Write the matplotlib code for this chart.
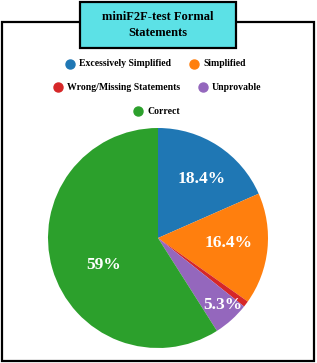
import matplotlib.pyplot as plt
from matplotlib.patches import Rectangle
from matplotlib.lines import Line2D
import numpy as np

labels = ['Excessively Simplified', 'Simplified', 'Wrong/Missing Statements', 'Unprovable', 'Correct']
values = [18.4, 16.4, 0.9, 5.3, 59.0]
colors = ['#1f77b4', '#ff7f0e', '#d62728', '#9467bd', '#2ca02c']
pct_text = ['18.4%', '16.4%', '', '5.3%', '59%']

W, H = 317, 363
plt.rcParams['font.family'] = ['Liberation Serif', 'DejaVu Serif']
fig = plt.figure(figsize=(W / 100, H / 100), dpi=100)

# outer frame
fig.patches.append(Rectangle((2 / W, 2 / H), 312 / W, 339 / H, transform=fig.transFigure,
                             fill=False, edgecolor='black', linewidth=1.6))

# title box
fig.patches.append(Rectangle((80 / W, 1 - 48 / H), 156 / W, 46 / H, transform=fig.transFigure,
                             facecolor='#5ce1e6', edgecolor='black', linewidth=1.6, zorder=3))
fig.text(158 / W, 1 - 25 / H, 'miniF2F-test Formal\nStatements', ha='center', va='center',
         fontsize=9, fontweight='bold', linespacing=1.45, zorder=4)

# pie
ax = fig.add_axes([48 / W, 15 / H, 220 / W, 220 / H])
wedges, _ = ax.pie(values, colors=colors, startangle=90, counterclock=False,
                   wedgeprops=dict(linewidth=0))
ax.set_xlim(-1, 1)
ax.set_ylim(-1, 1)
ax.set_aspect('equal')
# label placement (radius, angle tweak in degrees)
radii = [0.67, 0.64, 0.65, 0.85, 0.55]
nudge = [-3.5, 2, 0, 2, 10]
for w, t, r, d in zip(wedges, pct_text, radii, nudge):
    if not t:
        continue
    ang = np.deg2rad((w.theta1 + w.theta2) / 2 + d)
    ax.text(r * np.cos(ang), r * np.sin(ang), t, ha='center', va='center',
            color='white', fontsize=12.5, fontweight='bold')

# legend rows
legend_pos = [(70, 64), (194, 64), (58, 87), (203, 87), (138, 111)]
for (x, y), lab, c in zip(legend_pos, labels, colors):
    fig.add_artist(Line2D([x / W], [1 - y / H], marker='o', markersize=6.5, color=c,
                          linestyle='none', transform=fig.transFigure))
    fig.text((x + 9) / W, 1 - y / H, lab, ha='left', va='center', fontsize=7,
             fontweight='bold')

fig.savefig('out.png', dpi=100)
